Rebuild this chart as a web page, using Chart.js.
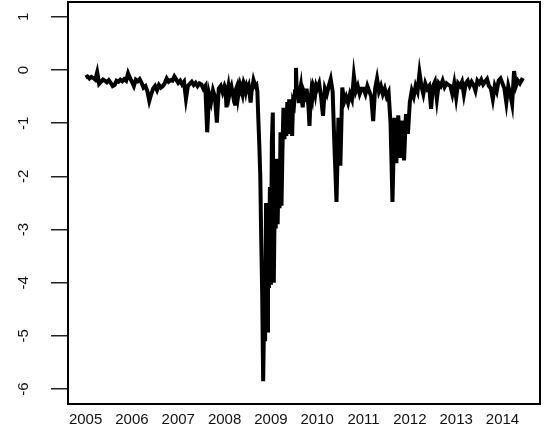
<!DOCTYPE html>
<html>
<head>
<meta charset="utf-8">
<script src="https://cdn.jsdelivr.net/npm/chart.js@4.4.0/dist/chart.umd.min.js"></script>
<style>
  html, body { margin: 0; padding: 0; background: #fff; }
  canvas { display: block; }
</style>
</head>
<body>
<canvas id="myChart" width="547" height="433"></canvas>
<script>
// readings per year: half-monthly, weekly around the 2008-2009 crash
const v2005 = [-0.14, -0.12, -0.16, -0.13, -0.15, -0.18, -0.04, -0.26, -0.22, -0.18, -0.2, -0.23,
               -0.19, -0.24, -0.3, -0.28, -0.2, -0.22, -0.18, -0.21, -0.17, -0.2, -0.06, -0.15];
const v2006 = [-0.22, -0.3, -0.18, -0.21, -0.17, -0.24, -0.33, -0.3, -0.4, -0.58, -0.45, -0.35,
               -0.3, -0.38, -0.28, -0.33, -0.3, -0.25, -0.16, -0.22, -0.19, -0.2, -0.12, -0.18];
const v2007 = [-0.24, -0.2, -0.27, -0.22, -0.54, -0.3, -0.26, -0.22, -0.28, -0.24, -0.3, -0.25,
               -0.27, -0.35, -0.3, -1.17, -0.45, -0.6, -0.38, -0.5, -0.99, -0.35, -0.3, -0.42];
const v2008 = [-0.3, -0.35, -0.7, -0.4, -0.3, -0.45, -0.35, -0.3, -0.4, -0.5, -0.45, -0.67,
               -0.35, -0.3, -0.5, -0.38, -0.28, -0.35, -0.3, -0.4, -0.25, -0.3, -0.4, -0.3,
               -0.35, -0.3, -0.45, -0.61, -0.4, -0.3, -0.19, -0.25, -0.3, -0.28, -0.4, -0.92,
               -1.4, -1.98, -3.2, -4.2, -5.85, -4.6, -5.1, -2.5, -4.9, -3.2, -4.1, -2.2];
const v2009 = [-4.04, -1.36, -0.8, -4.0, -2.5, -2.98, -1.67, -2.9, -1.9, -2.6, -1.17, -2.55,
               -1.5, -0.71, -1.3, -0.8, -1.24, -0.6, -1.2, -0.55, -1.1, -0.7, -1.24, -0.6,
               -0.65, -0.4, 0.04, -0.5, -0.35, -0.62, -0.4, -0.3, -0.55, -0.7, -0.4, -0.45,
               -0.6, -0.35, -0.5, -0.7, -1.05, -0.6, -0.4, -0.5, -0.3, -0.35, -0.45, -0.3];
const v2010 = [-0.35, -0.25, -0.5, -0.86, -0.35, -0.45, -0.3, -0.17, -0.4, -1.5, -2.48, -0.9,
               -1.8, -0.33, -0.6, -0.5, -0.62, -0.45, -0.55, -0.11, -0.4, -0.3, -0.45, -0.35];
const v2011 = [-0.35, -0.45, -0.3, -0.4, -0.5, -0.96, -0.35, -0.16, -0.4, -0.3, -0.45, -0.35,
               -0.5, -0.42, -1.0, -2.48, -0.9, -1.75, -0.85, -1.65, -0.95, -1.7, -0.83, -1.2];
const v2012 = [-0.6, -0.39, -0.5, -0.3, -0.4, -0.05, -0.3, -0.45, -0.25, -0.35, -0.3, -0.73,
               -0.3, -0.22, -0.55, -0.25, -0.3, -0.2, -0.32, -0.25, -0.28, -0.3, -0.45, -0.25];
const v2013 = [-0.52, -0.25, -0.3, -0.22, -0.46, -0.25, -0.2, -0.3, -0.22, -0.28, -0.39, -0.2,
               -0.25, -0.18, -0.27, -0.22, -0.17, -0.3, -0.35, -0.55, -0.3, -0.4, -0.2, -0.16];
const v2014 = [-0.25, -0.35, -0.61, -0.3, -0.45, -0.64, -0.02, -0.3, -0.2, -0.25, -0.18, -0.2];

const years = [2005, 2006, 2007, 2008, 2009, 2010, 2011, 2012, 2013, 2014];
const yearValues = [v2005, v2006, v2007, v2008, v2009, v2010, v2011, v2012, v2013, v2014];
const readingsPerYear = [24, 24, 24, 48, 48, 24, 24, 24, 24, 24];
const yTicks = [-6, -5, -4, -3, -2, -1, 0, 1];

const points = [];
years.forEach((yr, k) => {
    yearValues[k].forEach((v, i) => points.push({x: yr + i / readingsPerYear[k], y: v}));
});

const frame = {
    id: 'frame',
    afterDraw(chart) {
        const {ctx, chartArea: a} = chart;
        ctx.save();
        ctx.strokeStyle = '#000';
        ctx.lineWidth = 2;
        ctx.strokeRect(a.left, a.top, a.right - a.left, a.bottom - a.top);
        ctx.restore();
    }
};

const font = {family: '"Liberation Sans", Arial, sans-serif', size: 15};

const config = {
    type: 'line',
    data: {
        datasets: [{
            data: points,
            borderColor: '#000',
            borderWidth: 4,
            pointRadius: 0,
            tension: 0,
            fill: false,
        }]
    },
    options: {
        responsive: false,
        animation: false,
        events: [],
        layout: {padding: {top: 2, right: 7, left: 0, bottom: 0}},
        plugins: {
            legend: {display: false},
            tooltip: {enabled: false},
        },
        scales: {
            x: {
                type: 'linear',
                min: 2004.62,
                max: 2014.81,
                afterBuildTicks: axis => { axis.ticks = years.map(v => ({value: v})); },
                afterFit: axis => {
                    axis.height = 29;
                    axis.paddingLeft = 0;
                    axis.paddingRight = 0;
                },
                grid: {display: false, drawTicks: false},
                border: {display: false},
                ticks: {
                    color: '#111',
                    font: font,
                    padding: 7,
                    maxRotation: 0,
                    autoSkip: false,
                    callback: v => String(v),
                },
            },
            y: {
                min: -6.28,
                max: 1.28,
                afterBuildTicks: axis => { axis.ticks = yTicks.map(v => ({value: v})); },
                afterFit: axis => {
                    axis.width = 68;
                    axis.paddingTop = 0;
                    axis.paddingBottom = 0;
                },
                grid: {drawOnChartArea: false, drawTicks: true, tickLength: 17, color: '#222', lineWidth: 1.5},
                border: {display: false},
                ticks: {
                    color: '#111',
                    font: font,
                    minRotation: 90,
                    maxRotation: 90,
                    crossAlign: 'center',
                    padding: 20,
                    autoSkip: false,
                },
            },
        },
    },
    plugins: [frame],
};

const myChart = new Chart(document.getElementById('myChart'), config);
</script>
</body>
</html>
